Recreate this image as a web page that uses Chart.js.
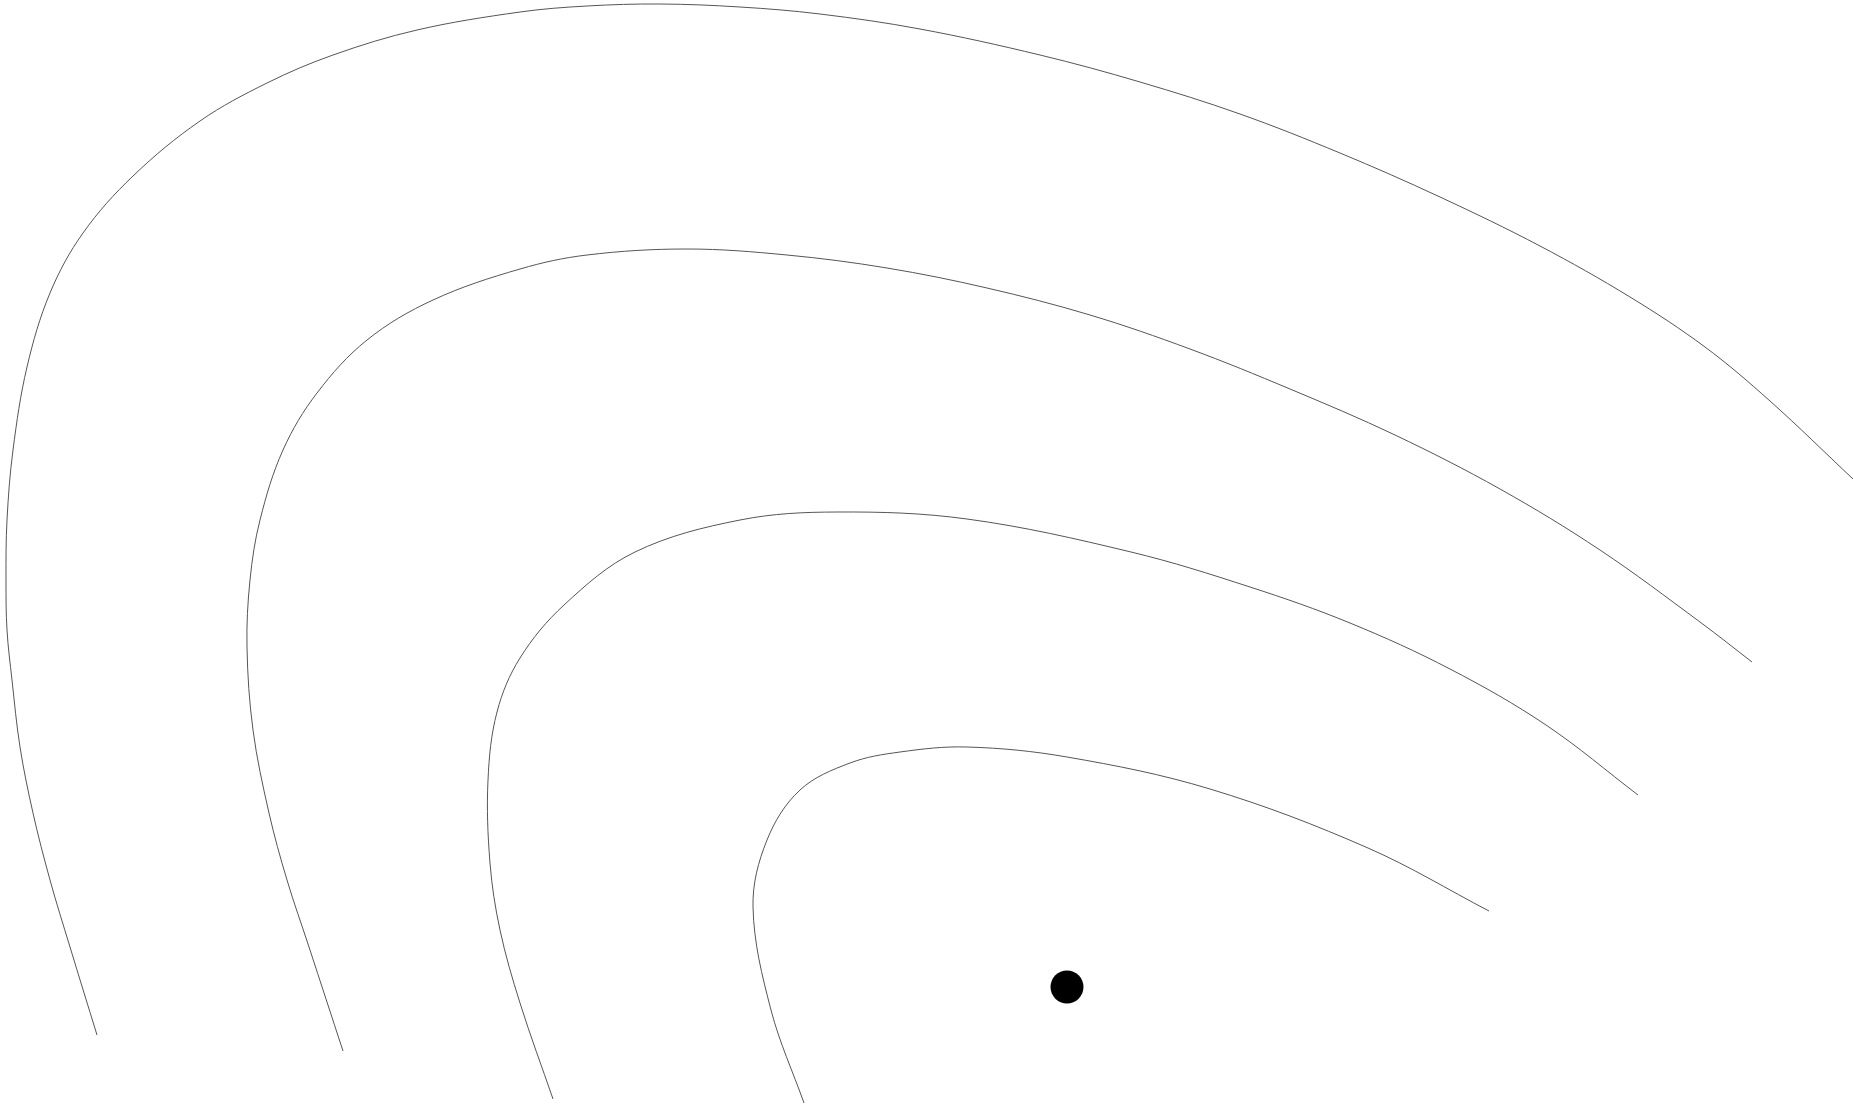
<!DOCTYPE html>
<html>
<head>
<meta charset="utf-8">
<script src="https://cdn.jsdelivr.net/npm/chart.js@4"></script>
<style>
  html, body { margin: 0; padding: 0; background: #fff; overflow: hidden; }
  #wrap { width: 1853px; height: 1104px; position: relative; }
</style>
</head>
<body>
<div id="wrap"><canvas id="myChart"></canvas></div>
<script>
// contour levels (x, y), y grows upward
const contour1 = [[0.97,0.69],[0.70,1.57],[0.50,2.24],[0.33,2.91],[0.20,3.57],[0.12,4.24],[0.07,4.74],[0.06,5.24],[0.07,5.84],[0.13,6.54],[0.27,7.37],[0.50,8.11],[0.83,8.71],[1.33,9.28],[2.00,9.83],[2.67,10.21],[3.33,10.49],[4.17,10.74],[5.20,10.92],[5.87,10.98],[6.60,11.00],[7.40,10.97],[8.20,10.90],[9.20,10.75],[10.40,10.49],[11.40,10.22],[12.40,9.90],[13.40,9.51],[14.40,9.07],[15.40,8.58],[16.30,8.07],[17.05,7.57],[17.70,7.03],[18.53,6.25]];
const contour2 = [[3.43,0.53],[3.09,1.57],[2.87,2.24],[2.69,2.91],[2.53,3.74],[2.47,4.57],[2.50,5.24],[2.60,5.84],[2.83,6.54],[3.17,7.11],[3.67,7.64],[4.33,8.04],[5.20,8.35],[5.87,8.49],[6.87,8.55],[7.87,8.49],[8.87,8.36],[9.87,8.16],[10.90,7.89],[11.90,7.55],[12.90,7.15],[13.95,6.69],[15.00,6.15],[16.00,5.54],[17.00,4.82],[17.52,4.42]];
const contour3 = [[5.53,0.05],[5.20,1.01],[5.00,1.74],[4.90,2.41],[4.88,3.24],[4.97,3.92],[5.20,4.46],[5.64,4.99],[6.35,5.52],[7.40,5.84],[8.37,5.92],[9.67,5.85],[11.31,5.52],[12.50,5.17],[13.50,4.81],[14.50,4.35],[15.46,3.79],[16.38,3.09]];
const contour4 = [[8.04,0.01],[7.71,0.94],[7.53,1.97],[7.67,2.64],[8.00,3.14],[8.50,3.41],[9.00,3.52],[9.67,3.57],[10.67,3.47],[12.10,3.15],[13.68,2.56],[14.89,1.93]];
const centerPoint = [[10.67,1.17]];

const xRange = [0, 18.53];
const yRange = [0, 11.04];

const toPts = arr => arr.map(p => ({ x: p[0], y: p[1] }));

const lineSet = arr => ({
  data: toPts(arr),
  showLine: true,
  borderColor: '#555',
  borderWidth: 1,
  pointRadius: 0,
  tension: 0.35,
  fill: false
});

const ctx = document.getElementById('myChart').getContext('2d');
new Chart(ctx, {
  type: 'scatter',
  data: {
    datasets: [
      lineSet(contour1),
      lineSet(contour2),
      lineSet(contour3),
      lineSet(contour4),
      {
        data: toPts(centerPoint),
        pointRadius: 16.5,
        pointBackgroundColor: '#000',
        pointBorderWidth: 0,
        borderColor: '#000'
      }
    ]
  },
  options: {
    responsive: true,
    maintainAspectRatio: false,
    animation: false,
    layout: { padding: 0, autoPadding: false },
    plugins: {
      legend: { display: false },
      tooltip: { enabled: false }
    },
    scales: {
      x: { type: 'linear', min: xRange[0], max: xRange[1], display: false },
      y: { type: 'linear', min: yRange[0], max: yRange[1], display: false }
    }
  }
});
</script>
</body>
</html>
